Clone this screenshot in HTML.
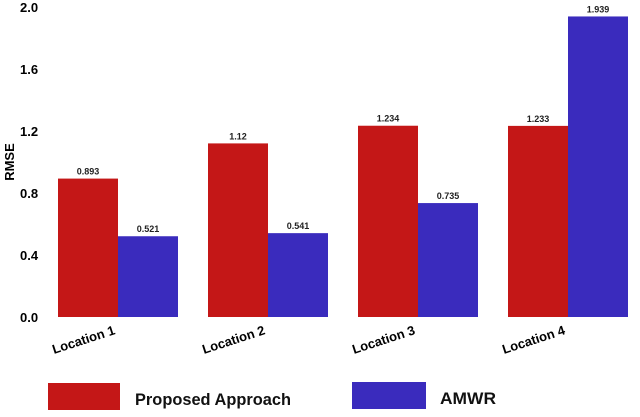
<!DOCTYPE html>
<html><head><meta charset="utf-8"><style>
body{margin:0;background:#fff;width:640px;height:412px;overflow:hidden;font-family:"Liberation Sans",sans-serif}
</style></head><body>
<svg id="chart" width="640" height="412" xmlns="http://www.w3.org/2000/svg">
<text transform="translate(14,162) rotate(-90)" text-anchor="middle" font-size="13" font-weight="bold">RMSE</text>
<g id="yticks"></g><g id="bars"></g><g id="xlabels"></g>
<g>
<rect x="48" y="383" width="72" height="27" fill="#c41717"/>
<text x="135" y="405" font-size="17" font-weight="bold" fill="#111" textLength="156" lengthAdjust="spacingAndGlyphs">Proposed Approach</text>
<rect x="352" y="382" width="74" height="27" fill="#3a2bbd"/>
<text x="440" y="404" font-size="17" font-weight="bold" fill="#111" textLength="56" lengthAdjust="spacingAndGlyphs">AMWR</text>
</g>
</svg>
<script>
const categories=["Location 1","Location 2","Location 3","Location 4"];
const proposed=[0.893,1.12,1.234,1.233];
const amwr=[0.521,0.541,0.735,1.939];
const proposedLabels=["0.893","1.12","1.234","1.233"];
const amwrLabels=["0.521","0.541","0.735","1.939"];
const yTicks=["0.0","0.4","0.8","1.2","1.6","2.0"];
const NS="http://www.w3.org/2000/svg";
const y0=317,pxPer=155,gx0=58,gStep=150,bw=60;
const yS=v=>y0-v*pxPer;
const xS=i=>gx0+i*gStep;
function mk(tag,attrs,parent,text){const e=document.createElementNS(NS,tag);for(const k in attrs)e.setAttribute(k,attrs[k]);if(text!==undefined)e.textContent=text;parent.appendChild(e);return e;}
const yt=document.getElementById('yticks');
yTicks.forEach(t=>{const e=mk('text',{x:20,y:yS(parseFloat(t))+5,'font-size':13,'font-weight':'bold'},yt,t);

});
const bg=document.getElementById('bars'),xl=document.getElementById('xlabels');
categories.forEach((c,i)=>{
 const x=xS(i);
 const r=mk('rect',{x:x,y:yS(proposed[i]),width:bw,height:proposed[i]*pxPer,fill:'#c41717'},bg);
 
 
 const b=mk('rect',{x:x+bw,y:yS(amwr[i]),width:bw,height:amwr[i]*pxPer,fill:'#3a2bbd'},bg);
 
 
 const l1=mk('text',{x:x+bw/2,y:yS(proposed[i])-4,'font-size':9,'text-anchor':'middle','font-weight':'bold','fill':'#222'},bg,proposedLabels[i]);
 
 
 const l2=mk('text',{x:x+bw*1.5,y:yS(amwr[i])-4,'font-size':9,'text-anchor':'middle','font-weight':'bold','fill':'#222'},bg,amwrLabels[i]);
 
 
 const xt=mk('text',{transform:`translate(${x-4},354) rotate(-18)`,'font-size':13,'font-weight':'bold'},xl,c);
 
 
});
</script>
</body></html>
